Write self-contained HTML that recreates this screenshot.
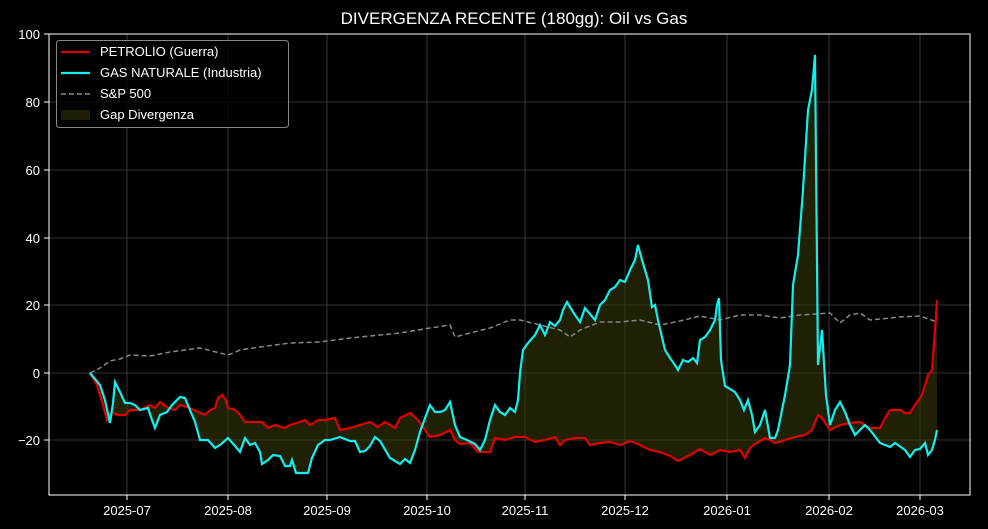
<!DOCTYPE html>
<html><head><style>body{margin:0;background:#000;}svg{display:block;}</style></head>
<body>
<svg width="988" height="529" xmlns="http://www.w3.org/2000/svg" font-family="Liberation Sans, DejaVu Sans, sans-serif">
<rect width="988" height="529" fill="#000"/>
<g stroke="#444" stroke-width="0.8">
<line x1="127" y1="34" x2="127" y2="495"/><line x1="228" y1="34" x2="228" y2="495"/><line x1="327" y1="34" x2="327" y2="495"/><line x1="427" y1="34" x2="427" y2="495"/><line x1="525" y1="34" x2="525" y2="495"/><line x1="625" y1="34" x2="625" y2="495"/><line x1="727" y1="34" x2="727" y2="495"/><line x1="829" y1="34" x2="829" y2="495"/><line x1="920" y1="34" x2="920" y2="495"/>
<line x1="49" y1="102" x2="970" y2="102"/><line x1="49" y1="170" x2="970" y2="170"/><line x1="49" y1="238" x2="970" y2="238"/><line x1="49" y1="305" x2="970" y2="305"/><line x1="49" y1="373" x2="970" y2="373"/><line x1="49" y1="440" x2="970" y2="440"/>
</g>
<polygon fill="#3a3a08" fill-opacity="0.55" points="90,373 97,385 103,405 107,420 112,412 117,415 125,415 130,410 140,410 150,405 155,408 160,402 168,408 175,410 180,405 190,408 198,412 205,415 210,410 215,408 218,398 222,395 226,400 228,408 235,410 240,415 245,422 255,422 262,422 268,428 275,425 285,428 290,425 300,422 305,420 310,425 318,420 325,420 335,418 340,430 350,428 360,425 370,422 378,427 385,422 395,428 400,418 410,413 418,420 425,430 430,437 440,435 450,430 455,440 460,444 470,443 478,452 490,452 495,438 505,440 515,437 525,437 535,442 545,440 555,437 560,445 565,440 575,438 585,438 590,445 600,443 610,442 620,445 630,441 640,445 650,450 660,452 670,456 678,461 690,455 700,449 710,455 720,450 730,452 740,450 745,458 750,448 755,444 765,438 770,440 775,443 785,440 795,437 805,435 812,430 818,415 822,418 830,430 840,425 850,423 860,422 870,428 880,428 885,418 890,410 900,410 905,413 910,413 915,405 922,395 928,375 932,370 935,330 937,300 937,430 935,440 932,450 928,455 925,443 920,449 915,450 910,457 905,450 895,443 890,447 880,443 870,430 865,425 860,430 855,435 850,425 845,412 840,402 835,410 830,425 826,395 822,330 818,365 815,55 812,90 808,110 803,190 798,255 793,285 790,365 785,395 778,430 775,438 770,438 765,410 760,425 755,432 752,415 748,400 744,410 740,400 735,392 725,386 721,360 719,298 717,305 715,320 710,330 705,337 700,340 697,363 693,358 688,362 683,360 678,370 675,365 670,358 665,350 658,320 655,305 652,307 648,280 645,270 642,260 638,245 635,260 630,270 625,282 620,280 615,287 610,290 605,300 600,305 595,320 590,314 585,308 580,322 575,315 570,307 567,302 563,310 560,320 555,326 550,322 545,335 540,325 535,335 528,343 523,350 520,373 518,400 515,412 510,408 505,415 500,412 495,405 490,420 485,440 480,450 475,444 467,440 460,437 455,425 450,402 445,410 440,412 435,412 430,405 425,418 420,432 415,450 410,463 405,459 400,464 395,461 390,458 380,441 375,437 370,446 365,451 360,452 355,441 350,441 340,437 330,440 325,440 318,445 312,458 308,473 302,473 296,473 292,460 290,466 285,466 280,456 273,455 268,460 262,464 260,452 255,443 250,445 245,438 240,452 235,446 228,438 220,445 215,448 208,440 200,440 195,422 190,410 185,398 180,397 172,405 167,412 160,415 155,428 152,420 148,408 140,410 135,405 130,403 125,403 120,392 115,382 113,403 110,423 105,400 100,385"/>
<polyline fill="none" stroke="#888" stroke-width="1.5" stroke-dasharray="5,3" points="90,373 100,368 110,361 120,359 130,355 150,356 170,352 200,348 228,355 240,350 260,347 290,343 320,342 350,338 380,335 400,333 430,328 450,325 455,337 470,333 490,328 510,320 520,320 540,325 560,330 570,337 580,330 600,322 620,322 640,320 660,325 680,321 700,316 720,320 740,315 760,315 780,318 800,315 830,313 840,323 850,315 860,313 870,320 900,317 920,316 937,322"/>
<polyline fill="none" stroke="#e00000" stroke-width="2.2" points="90,373 97,385 103,405 107,420 112,412 117,415 125,415 130,410 140,410 150,405 155,408 160,402 168,408 175,410 180,405 190,408 198,412 205,415 210,410 215,408 218,398 222,395 226,400 228,408 235,410 240,415 245,422 255,422 262,422 268,428 275,425 285,428 290,425 300,422 305,420 310,425 318,420 325,420 335,418 340,430 350,428 360,425 370,422 378,427 385,422 395,428 400,418 410,413 418,420 425,430 430,437 440,435 450,430 455,440 460,444 470,443 478,452 490,452 495,438 505,440 515,437 525,437 535,442 545,440 555,437 560,445 565,440 575,438 585,438 590,445 600,443 610,442 620,445 630,441 640,445 650,450 660,452 670,456 678,461 690,455 700,449 710,455 720,450 730,452 740,450 745,458 750,448 755,444 765,438 770,440 775,443 785,440 795,437 805,435 812,430 818,415 822,418 830,430 840,425 850,423 860,422 870,428 880,428 885,418 890,410 900,410 905,413 910,413 915,405 922,395 928,375 932,370 935,330 937,300"/>
<polyline fill="none" stroke="#11f0f0" stroke-width="2.2" points="90,373 100,385 105,400 110,423 113,403 115,382 120,392 125,403 130,403 135,405 140,410 148,408 152,420 155,428 160,415 167,412 172,405 180,397 185,398 190,410 195,422 200,440 208,440 215,448 220,445 228,438 235,446 240,452 245,438 250,445 255,443 260,452 262,464 268,460 273,455 280,456 285,466 290,466 292,460 296,473 302,473 308,473 312,458 318,445 325,440 330,440 340,437 350,441 355,441 360,452 365,451 370,446 375,437 380,441 390,458 395,461 400,464 405,459 410,463 415,450 420,432 425,418 430,405 435,412 440,412 445,410 450,402 455,425 460,437 467,440 475,444 480,450 485,440 490,420 495,405 500,412 505,415 510,408 515,412 518,400 520,373 523,350 528,343 535,335 540,325 545,335 550,322 555,326 560,320 563,310 567,302 570,307 575,315 580,322 585,308 590,314 595,320 600,305 605,300 610,290 615,287 620,280 625,282 630,270 635,260 638,245 642,260 645,270 648,280 652,307 655,305 658,320 665,350 670,358 675,365 678,370 683,360 688,362 693,358 697,363 700,340 705,337 710,330 715,320 717,305 719,298 721,360 725,386 735,392 740,400 744,410 748,400 752,415 755,432 760,425 765,410 770,438 775,438 778,430 785,395 790,365 793,285 798,255 803,190 808,110 812,90 815,55 818,365 822,330 826,395 830,425 835,410 840,402 845,412 850,425 855,435 860,430 865,425 870,430 880,443 890,447 895,443 905,450 910,457 915,450 920,449 925,443 928,455 932,450 935,440 937,430"/>
<rect x="49" y="34" width="921" height="461" fill="none" stroke="#fff" stroke-width="1"/>
<g stroke="#fff"><line x1="44" y1="34" x2="49" y2="34"/><line x1="44" y1="102" x2="49" y2="102"/><line x1="44" y1="170" x2="49" y2="170"/><line x1="44" y1="238" x2="49" y2="238"/><line x1="44" y1="305" x2="49" y2="305"/><line x1="44" y1="373" x2="49" y2="373"/><line x1="44" y1="440" x2="49" y2="440"/>
<line x1="127" y1="495" x2="127" y2="500"/><line x1="228" y1="495" x2="228" y2="500"/><line x1="327" y1="495" x2="327" y2="500"/><line x1="427" y1="495" x2="427" y2="500"/><line x1="525" y1="495" x2="525" y2="500"/><line x1="625" y1="495" x2="625" y2="500"/><line x1="727" y1="495" x2="727" y2="500"/><line x1="829" y1="495" x2="829" y2="500"/><line x1="920" y1="495" x2="920" y2="500"/></g>
<g fill="#fff" font-size="13" text-anchor="end"><text x="40" y="39">100</text><text x="40" y="107">80</text><text x="40" y="175">60</text><text x="40" y="243">40</text><text x="40" y="310">20</text><text x="40" y="378">0</text><text x="40" y="445">−20</text></g>
<g fill="#fff" font-size="13" text-anchor="middle"><text x="127" y="515">2025-07</text><text x="228" y="515">2025-08</text><text x="327" y="515">2025-09</text><text x="427" y="515">2025-10</text><text x="525" y="515">2025-11</text><text x="625" y="515">2025-12</text><text x="727" y="515">2026-01</text><text x="829" y="515">2026-02</text><text x="920" y="515">2026-03</text></g>
<text x="514" y="24" fill="#fff" font-size="17" text-anchor="middle">DIVERGENZA RECENTE (180gg): Oil vs Gas</text>
<rect x="56.5" y="40.5" width="232" height="87" rx="3" fill="#000" fill-opacity="0.85" stroke="#888"/>
<line x1="61" y1="52" x2="90" y2="52" stroke="#e00000" stroke-width="2.2"/>
<line x1="61" y1="73" x2="90" y2="73" stroke="#11f0f0" stroke-width="2.2"/>
<line x1="61" y1="94" x2="90" y2="94" stroke="#888" stroke-width="1.5" stroke-dasharray="5,3"/>
<rect x="61" y="110" width="29" height="10" fill="#1e1e06"/>
<g fill="#fff" font-size="13"><text x="100" y="56">PETROLIO (Guerra)</text><text x="100" y="77">GAS NATURALE (Industria)</text><text x="100" y="98">S&amp;P 500</text><text x="100" y="119">Gap Divergenza</text></g>
</svg>
</body></html>
